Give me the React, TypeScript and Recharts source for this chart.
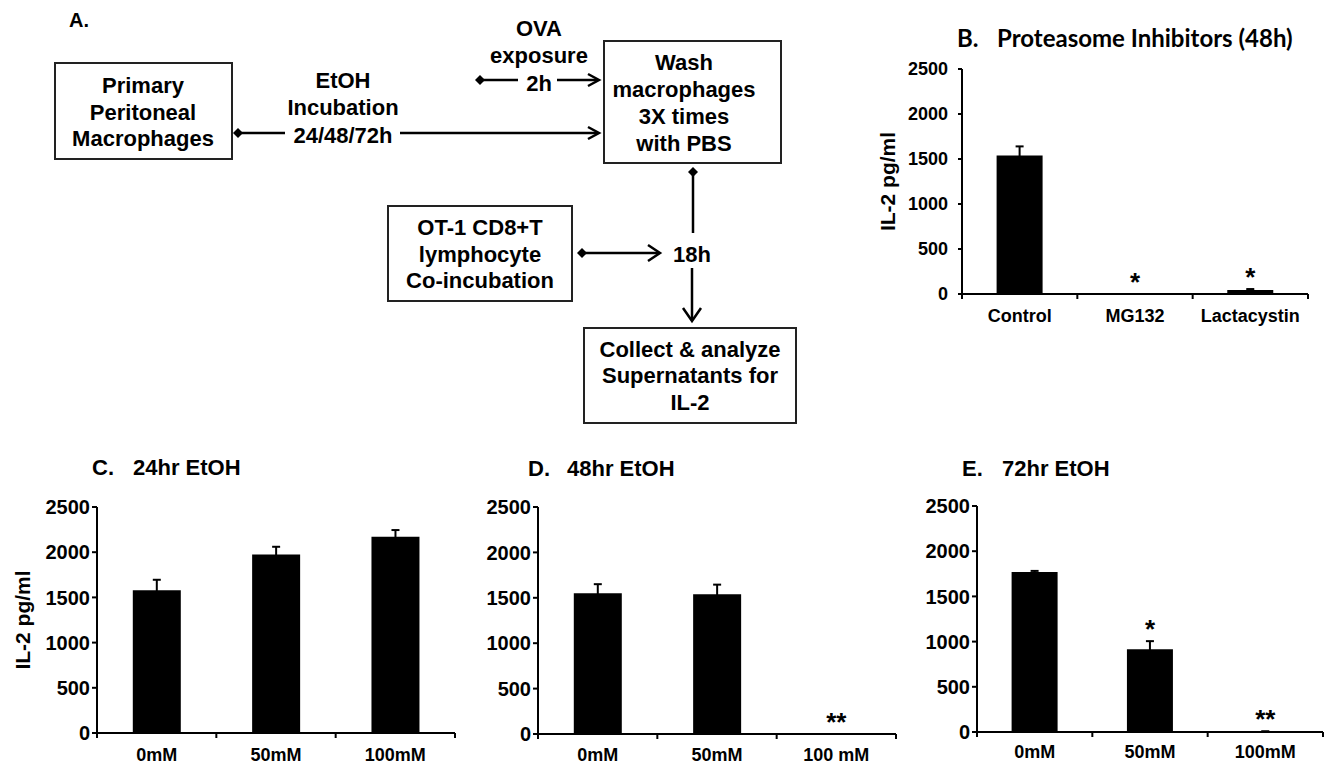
import React from 'react';
import {
  ComposedChart,
  Bar,
  Line,
  XAxis,
  YAxis,
  ErrorBar,
  LabelList,
} from 'recharts';

const FONT = '"Liberation Sans", Arial, Helvetica, sans-serif';
const TITLE_FONT = 'Lato, "Open Sans", sans-serif';
const INK = '#000';

const Y_TICKS = [0, 500, 1000, 1500, 2000, 2500];

// B. Proteasome inhibitors (48h)
const inhibitorGroups = ['Control', 'MG132', 'Lactacystin'];
const inhibitorIL2 = [1540, 0, 45];
const inhibitorSem = [100, 0, 10];
const inhibitorSig = ['', '*', '*'];

// C-E. EtOH dose, IL-2 pg/ml
const doses = ['0mM', '50mM', '100mM'];
const dosesD = ['0mM', '50mM', '100 mM'];

const il2At24h = [1580, 1975, 2170];
const semAt24h = [115, 85, 75];
const sigAt24h = ['', '', ''];

const il2At48h = [1550, 1540, 0];
const semAt48h = [100, 105, 0];
const sigAt48h = ['', '', '**'];

const il2At72h = [1770, 915, 5];
const semAt72h = [12, 90, 3];
const sigAt72h = ['', '*', '**'];

type Row = { name: string; il2: number; err: number; top: number; sig: string };

const buildRows = (
  names: string[],
  values: number[],
  errs: number[],
  sig: string[]
): Row[] =>
  names.map((name, i) => ({
    name,
    il2: values[i],
    err: errs[i],
    top: values[i] + errs[i],
    sig: sig[i],
  }));

const StarLabel = (props: any) => {
  const { x, y, value } = props;
  if (!value) return null;
  return (
    <text
      x={x}
      y={y - 3}
      textAnchor="middle"
      fontFamily={FONT}
      fontWeight={700}
      fontSize={26}
      fill={INK}
    >
      {value}
    </text>
  );
};

interface PanelProps {
  rows: Row[];
  left: number;
  top: number;
  width: number;
  height: number;
  margin: { top: number; right: number; bottom: number; left: number };
  yAxisWidth: number;
  yTickSize: number;
  yTickMargin: number;
  yTickFont: number;
  xTickGap: number;
  yLabelX?: number;
}

const Panel: React.FC<PanelProps> = ({
  rows,
  left,
  top,
  width,
  height,
  margin,
  yAxisWidth,
  yTickSize,
  yTickMargin,
  yTickFont,
  xTickGap,
  yLabelX,
}) => {
  const band = (width - margin.left - margin.right - yAxisWidth) / rows.length;

  // excel-style tick marks sit between the categories
  const BandTick = (p: any) => {
    const { x, y, payload, index } = p;
    const axisY = y - xTickGap;
    return (
      <g>
        <line x1={x - band / 2} x2={x - band / 2} y1={axisY} y2={axisY + 5} stroke={INK} strokeWidth={2} />
        {index === rows.length - 1 && (
          <line x1={x + band / 2} x2={x + band / 2} y1={axisY} y2={axisY + 5} stroke={INK} strokeWidth={2} />
        )}
        <text
          x={x}
          y={y}
          dy="0.71em"
          textAnchor="middle"
          fontFamily={FONT}
          fontWeight={700}
          fontSize={18}
          fill={INK}
        >
          {payload.value}
        </text>
      </g>
    );
  };

  return (
    <div style={{ position: 'absolute', left, top, width, height }}>
      <ComposedChart
        width={width}
        height={height}
        data={rows}
        margin={margin}
        barCategoryGap="30%"
      >
        <XAxis
          dataKey="name"
          height={30}
          tickSize={0}
          tickMargin={xTickGap}
          tickLine={false}
          axisLine={{ stroke: INK, strokeWidth: 2 }}
          tick={<BandTick />}
          interval={0}
        />
        <YAxis
          width={yAxisWidth}
          domain={[0, 2500]}
          ticks={Y_TICKS}
          interval={0}
          tickSize={yTickSize}
          tickMargin={yTickMargin}
          axisLine={{ stroke: INK, strokeWidth: 2 }}
          tickLine={{ stroke: INK, strokeWidth: 2 }}
          tick={{ fill: INK, fontSize: yTickFont, fontWeight: 700, fontFamily: FONT }}
          label={
            yLabelX !== undefined
              ? {
                  value: 'IL-2 pg/ml',
                  angle: -90,
                  position: 'insideLeft',
                  offset: yLabelX,
                  style: {
                    textAnchor: 'middle',
                    fontSize: 21,
                    fontWeight: 700,
                    fill: INK,
                    fontFamily: FONT,
                  },
                }
              : undefined
          }
        />
        <Bar dataKey="il2" fill={INK} isAnimationActive={false}>
          <ErrorBar dataKey="err" direction="y" width={4} stroke={INK} strokeWidth={2} />
        </Bar>
        <Line
          dataKey="top"
          stroke="none"
          dot={false}
          activeDot={false}
          legendType="none"
          isAnimationActive={false}
        >
          <LabelList dataKey="sig" content={StarLabel} />
        </Line>
      </ComposedChart>
    </div>
  );
};

const arrowRight = (x: number, y: number, len = 11, half = 6) =>
  `${x - len},${y - half} ${x},${y} ${x - len},${y + half}`;
const arrowDown = (x: number, y: number, len = 13, half = 9) =>
  `${x - half},${y - len} ${x},${y} ${x + half},${y - len}`;

const Diamond = ({ x, y }: { x: number; y: number }) => (
  <polygon points={`${x - 5},${y} ${x},${y - 5} ${x + 5},${y} ${x},${y + 5}`} fill={INK} />
);

const BoxText = ({ x, ys, lines }: { x: number; ys: number[]; lines: string[] }) => (
  <>
    {lines.map((t, i) => (
      <text key={t} x={x} y={ys[i]} textAnchor="middle">
        {t}
      </text>
    ))}
  </>
);

const Overlay = () => (
  <svg
    width={1325}
    height={765}
    style={{ position: 'absolute', left: 0, top: 0, pointerEvents: 'none' }}
    fontFamily={FONT}
    fontWeight={700}
    fill={INK}
  >
    <text x={69} y={27} fontSize={20}>A.</text>

    <g fontSize={22}>
      {/* boxes */}
      <rect x={55} y={63} width={177} height={96} fill="none" stroke="#222" strokeWidth={2} />
      <BoxText x={143} ys={[93, 120, 146]} lines={['Primary', 'Peritoneal', 'Macrophages']} />

      <rect x={604} y={41} width={177} height={122} fill="none" stroke="#222" strokeWidth={2} />
      <BoxText x={684} ys={[70, 97, 124, 151]} lines={['Wash', 'macrophages', '3X times', 'with PBS']} />

      <rect x={388} y={206} width={184} height={95} fill="none" stroke="#222" strokeWidth={2} />
      <BoxText x={480} ys={[235, 262, 288]} lines={['OT-1 CD8+T', 'lymphocyte', 'Co-incubation']} />

      <rect x={584} y={328} width={212} height={95} fill="none" stroke="#222" strokeWidth={2} />
      <BoxText x={690} ys={[357, 383, 410]} lines={['Collect & analyze', 'Supernatants for', 'IL-2']} />

      {/* labels on arrows */}
      <BoxText x={343} ys={[88, 115, 143]} lines={['EtOH', 'Incubation', '24/48/72h']} />
      <BoxText x={539} ys={[36, 63, 91]} lines={['OVA', 'exposure', '2h']} />
      <text x={692} y={262} textAnchor="middle">18h</text>
    </g>

    <g stroke={INK} strokeWidth={2.5} fill="none">
      {/* EtOH arrow */}
      <line x1={238} y1={133} x2={285} y2={133} />
      <line x1={400} y1={133} x2={598} y2={133} />
      <polyline points={arrowRight(599, 133)} />
      {/* OVA arrow */}
      <line x1={480} y1={80} x2={518} y2={80} />
      <line x1={557} y1={80} x2={598} y2={80} />
      <polyline points={arrowRight(599, 80)} />
      {/* wash -> 18h */}
      <line x1={693} y1={172} x2={693} y2={233} />
      {/* OT-1 -> 18h */}
      <line x1={582} y1={253} x2={659} y2={253} />
      <polyline points={arrowRight(660, 253, 12, 8)} />
      {/* 18h -> collect */}
      <line x1={692} y1={268} x2={692} y2={320} />
      <polyline points={arrowDown(692, 321)} />
    </g>
    <Diamond x={238} y={133} />
    <Diamond x={480} y={80} />
    <Diamond x={693} y={172} />
    <Diamond x={582} y={253} />

    {/* panel titles */}
    <g fontFamily={TITLE_FONT} fontSize={24}>
      <text x={957} y={47}>B.</text>
      <text x={997} y={47}>Proteasome Inhibitors (48h)</text>
    </g>
    <g fontSize={22}>
      <text x={92} y={475}>C.</text>
      <text x={133} y={475}>24hr EtOH</text>
      <text x={528} y={476}>D.</text>
      <text x={567} y={476}>48hr EtOH</text>
      <text x={962} y={476}>E.</text>
      <text x={1002} y={476}>72hr EtOH</text>
    </g>
  </svg>
);

export default function App() {
  return (
    <div
      style={{
        position: 'absolute',
        left: 0,
        top: 0,
        width: 1325,
        height: 765,
        background: '#fff',
        overflow: 'hidden',
      }}
    >
      <Panel
        rows={buildRows(inhibitorGroups, inhibitorIL2, inhibitorSem, inhibitorSig)}
        left={860}
        top={30}
        width={465}
        height={340}
        margin={{ top: 39, right: 17, bottom: 46, left: 0 }}
        yAxisWidth={102}
        yTickSize={4}
        yTickMargin={10}
        yTickFont={18}
        xTickGap={15}
        yLabelX={28}
      />
      <Panel
        rows={buildRows(doses, il2At24h, semAt24h, sigAt24h)}
        left={0}
        top={480}
        width={460}
        height={285}
        margin={{ top: 27, right: 5, bottom: 2, left: 0 }}
        yAxisWidth={97}
        yTickSize={5}
        yTickMargin={2}
        yTickFont={20}
        xTickGap={15}
        yLabelX={23}
      />
      <Panel
        rows={buildRows(dosesD, il2At48h, semAt48h, sigAt48h)}
        left={440}
        top={480}
        width={460}
        height={285}
        margin={{ top: 27, right: 4, bottom: 1, left: 0 }}
        yAxisWidth={98}
        yTickSize={5}
        yTickMargin={2}
        yTickFont={20}
        xTickGap={14}
      />
      <Panel
        rows={buildRows(doses, il2At72h, semAt72h, sigAt72h)}
        left={880}
        top={480}
        width={445}
        height={285}
        margin={{ top: 26, right: 2, bottom: 3, left: 0 }}
        yAxisWidth={97}
        yTickSize={5}
        yTickMargin={2}
        yTickFont={20}
        xTickGap={13}
      />
      <Overlay />
    </div>
  );
}
